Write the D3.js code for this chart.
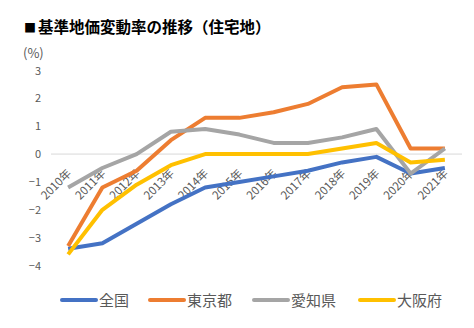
<!DOCTYPE html>
<html>
<head>
<meta charset="utf-8">
<script src="https://cdn.jsdelivr.net/npm/d3@7"></script>
<style>
  body {margin: 0; background: #fff;}
  text {font-family: "Noto Sans CJK JP", "Noto Sans", sans-serif;}
</style>
</head>
<body>
<script>
  // data
  var years = ["2010年","2011年","2012年","2013年","2014年","2015年","2016年","2017年","2018年","2019年","2020年","2021年"];
  var zenkoku = [-3.4, -3.2, -2.5, -1.8, -1.2, -1.0, -0.8, -0.6, -0.3, -0.1, -0.7, -0.5];
  var tokyo   = [-3.3, -1.2, -0.6, 0.5, 1.3, 1.3, 1.5, 1.8, 2.4, 2.5, 0.2, 0.2];
  var aichi   = [-1.2, -0.5, 0.0, 0.8, 0.9, 0.7, 0.4, 0.4, 0.6, 0.9, -0.7, 0.2];
  var osaka   = [-3.6, -2.0, -1.1, -0.4, 0.0, 0.0, 0.0, 0.0, 0.2, 0.4, -0.3, -0.2];
  var yTicks = [3, 2, 1, 0, -1, -2, -3, -4];

  var series = [
    {name: "全国", values: zenkoku, color: "#4472C4"},
    {name: "東京都", values: tokyo, color: "#ED7D31"},
    {name: "愛知県", values: aichi, color: "#A5A5A5"},
    {name: "大阪府", values: osaka, color: "#FFC000"}
  ];

  var width = 474, height = 328;

  var svg = d3.select("body").append("svg")
      .attr("width", width)
      .attr("height", height);

  var x = d3.scalePoint().domain(years).range([51, 462]).padding(0.5);
  var y = d3.scaleLinear().domain([-4, 3]).range([265.5, 70.5]);

  // title
  var title = svg.append("text")
      .attr("x", 24).attr("y", 33)
      .style("font-size", "15.5px")
      .style("font-weight", "bold")
      .style("fill", "#000");
  title.append("tspan").style("font-size", "12px").text("■");
  title.append("tspan").attr("dx", 2).text("基準地価変動率の推移（住宅地）");

  svg.append("text")
      .attr("x", 23).attr("y", 58)
      .style("font-size", "13px")
      .style("fill", "#595959")
      .text("(%)");

  // y axis labels
  var yAxis = d3.axisLeft(y).tickValues(yTicks).tickSize(0).tickPadding(0)
      .tickFormat(d3.format("d"));
  svg.append("g")
      .attr("transform", "translate(41,0)")
      .call(yAxis)
      .call(g => g.select(".domain").remove())
      .selectAll("text")
      .style("font-family", "'Noto Sans CJK JP', sans-serif")
      .style("font-size", "11px")
      .style("fill", "#595959");

  // zero line
  svg.append("line")
      .attr("x1", 51).attr("x2", 462)
      .attr("y1", y(0)).attr("y2", y(0))
      .style("stroke", "#D9D9D9")
      .style("stroke-width", 1);

  // x labels, rotated
  svg.append("g").selectAll("text")
      .data(years).enter().append("text")
      .attr("transform", d => "translate(" + (x(d) + 4) + "," + (y(0) + 20) + ") rotate(-45)")
      .style("text-anchor", "end")
      .style("font-size", "11.5px")
      .style("fill", "#595959")
      .text(d => d);

  // lines
  var line = d3.line()
      .x((d, i) => x(years[i]))
      .y(d => y(d));

  svg.append("g").selectAll("path")
      .data(series).enter().append("path")
      .attr("d", d => line(d.values))
      .style("fill", "none")
      .style("stroke", d => d.color)
      .style("stroke-width", 4)
      .style("stroke-linejoin", "round");

  // legend
  var legX = [62, 150, 254, 360];
  var leg = svg.append("g").selectAll("g")
      .data(series).enter().append("g")
      .attr("transform", (d, i) => "translate(" + legX[i] + ",300)");
  leg.append("line")
      .attr("x1", 0).attr("x2", 34)
      .style("stroke", d => d.color)
      .style("stroke-width", 4)
      .style("stroke-linecap", "round");
  leg.append("text")
      .attr("x", 37).attr("y", 5.5)
      .style("font-size", "15px")
      .style("fill", "#595959")
      .text(d => d.name);
</script>
</body>
</html>
